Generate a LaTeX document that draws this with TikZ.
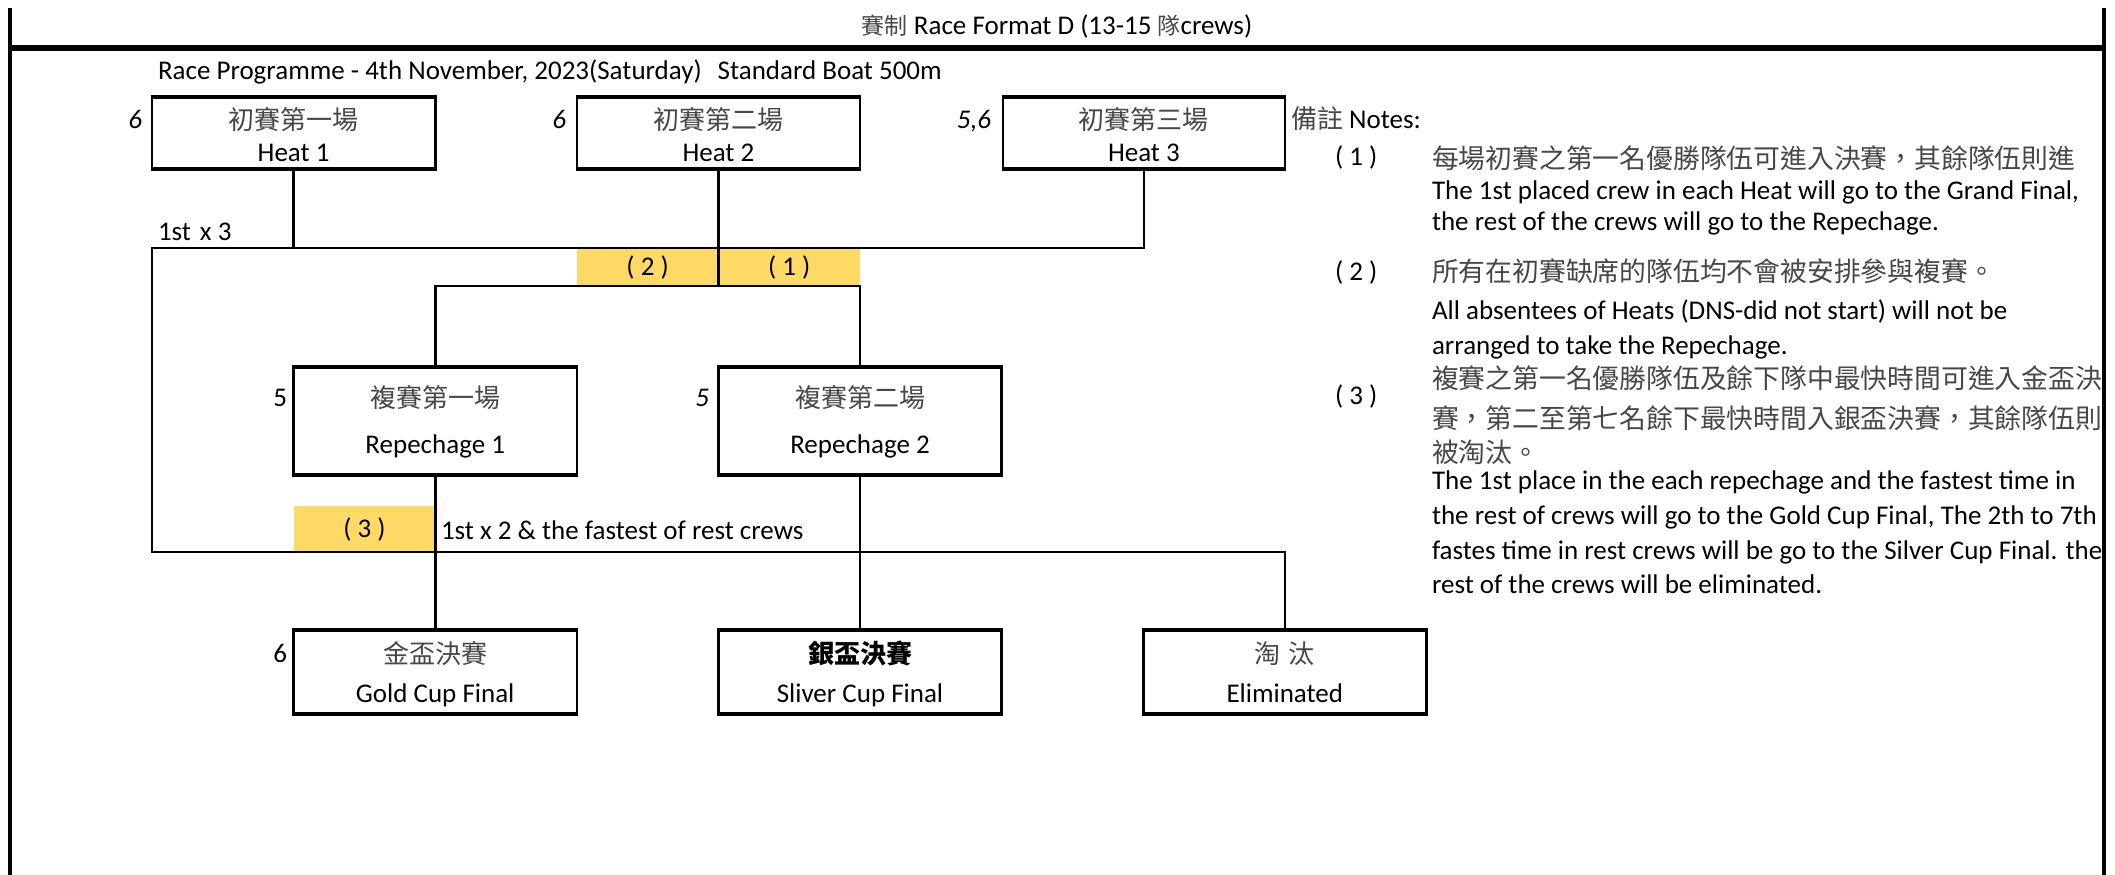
\documentclass[tikz,border=0pt]{standalone}
\usepackage{fontspec}
\setmainfont{Carlito}
\newfontfamily\cjk{Noto Sans CJK TC}
\definecolor{gold}{HTML}{FFD966}
\definecolor{cjkgray}{gray}{0.28}
\newcommand\zh[2][26]{{\cjk\fontsize{#1}{#1}\selectfont\color{cjkgray}#2}}
\newcommand\mybox[5]{%
  \node[boxnode, minimum width={#3-#2}, minimum height={#5-#4}, anchor=north west] (#1) at (#2,#4) {};
  \draw[edge] ([xshift=-1.3pt]#1.north west) -- ([xshift=1.3pt]#1.north east);
  \draw[edge] ([xshift=-1.3pt]#1.south west) -- ([xshift=1.3pt]#1.south east);
}
\tikzset{
  lat/.style={font=\fontsize{27}{32}\selectfont, inner sep=0pt, outer sep=0pt},
  boxnode/.style={draw=black, line width=2.6pt, inner sep=0pt, outer sep=0pt, fill=white},
  edge/.style={line width=4.6pt},
  conn/.style={line width=2.6pt, line cap=rect},
  ybox/.style={fill=gold, draw=none, inner sep=0pt, outer sep=0pt, font=\fontsize{27}{32}\selectfont},
  lbl/.style={lat, anchor=base east},
  txt/.style={lat, anchor=base west},
  mid/.style={lat, anchor=base},
}
\begin{document}
\begin{tikzpicture}[x=1pt, y=-1pt]
\useasboundingbox (0,0) rectangle (2115,875);
% frame
\draw[line width=4pt] (10,8) -- (10,875);
\draw[line width=4pt] (2104,8) -- (2104,875);
\draw[line width=6pt] (8,48) -- (2106,48);
\node[mid] (sub) at (1057,35) {\zh[23]{賽制} Race Format D (13-15 \zh[23]{隊}crews)};
\node[txt] (prog) at (158,79) {Race Programme - 4th November, 2023(Saturday)\hspace{16pt}Standard Boat 500m};

% yellow cells
\node[ybox, minimum width=141.6, minimum height=38, anchor=north west] (y2) at (576.8,248) {\raisebox{-4pt}{( 2 )}};
\node[ybox, minimum width=141.6, minimum height=38, anchor=north west] (y1) at (718.4,248) {\raisebox{-4pt}{( 1 )}};
\node[ybox, minimum width=141.6, minimum height=46, anchor=north west] (y3) at (293.6,506) {( 3 )};

% junction coordinates
\coordinate (jTL) at (152,248);
\coordinate (jBL) at (152,552);
\coordinate (jM) at (0,286);

% boxes
\mybox{h1}{152}{435.2}{97}{169}
\mybox{h2}{576.8}{860}{97}{169}
\mybox{h3}{1003}{1284.8}{97}{169}
\mybox{r1}{293.6}{576.8}{367}{475}
\mybox{r2}{718.4}{1001.6}{367}{475}
\mybox{gf}{293.6}{576.8}{630}{714}
\mybox{sf}{718.4}{1001.6}{630}{714}
\mybox{el}{1143.2}{1426.4}{630}{714}

% connectors
\draw[conn] (h3.south) |- (jTL) -- (jBL) -| (el.north);
\draw[conn] (h1.south) -- (h1.south |- jTL);
\draw[conn] (h2.south) -- (h2.south |- jM);
\draw[conn] (r1.north) -- (r1.north |- jM) -- (r2.north |- jM) -- (r2.north);
\draw[conn] (r1.south) -- (gf.north);
\draw[conn] (r2.south) -- (sf.north);

% box texts
\node[mid] (h1a) at ([yshift=-32]h1.north) {\zh{初賽第一場}};
\node[mid] (h1b) at ([yshift=-64]h1.north) {Heat 1};
\node[mid] (h2a) at ([yshift=-32]h2.north) {\zh{初賽第二場}};
\node[mid] (h2b) at ([yshift=-64]h2.north) {Heat 2};
\node[mid] (h3a) at ([yshift=-32]h3.north) {\zh{初賽第三場}};
\node[mid] (h3b) at ([yshift=-64]h3.north) {Heat 3};
\node[mid] (r1a) at ([yshift=-40]r1.north) {\zh{複賽第一場}};
\node[mid] (r1b) at ([yshift=-86]r1.north) {Repechage 1};
\node[mid] (r2a) at ([yshift=-40]r2.north) {\zh{複賽第二場}};
\node[mid] (r2b) at ([yshift=-86]r2.north) {Repechage 2};
\node[mid] (gfa) at ([yshift=-33]gf.north) {\zh{金盃決賽}};
\node[mid] (gfb) at ([yshift=-72]gf.north) {Gold Cup Final};
\node[mid] (sfa) at ([yshift=-33]sf.north) {{\cjk\fontsize{26}{26}\selectfont\bfseries 銀盃決賽}};
\node[mid] (sfb) at ([yshift=-72]sf.north) {Sliver Cup Final};
\node[mid] (ela) at ([yshift=-33]el.north) {\zh{淘\hspace{8pt}汰}};
\node[mid] (elb) at ([yshift=-72]el.north) {Eliminated};

% side labels
\node[lbl] (n1) at (142,128) {\itshape 6};
\node[lbl] (n2) at (566,128) {\itshape 6};
\node[lbl] (n3) at (991,128) {\itshape 5,6};
\node[lbl] (n4) at (287,406) {5};
\node[lbl] (n5) at (709,406) {\itshape 5};
\node[lbl] (n6) at (287,662) {6};
\node[txt] (first3) at (158,240) {1st\hspace{9pt}x 3};
\node[txt] (first2) at (441,539) {1st x 2 \& the fastest of rest crews};

% notes
\node[txt] (nt) at (1291,128) {\zh{備註} Notes:};
\node[txt] (k1) at (1335,165) {( 1 )};
\node[txt] (t1a) at (1432,168) {\zh[26.8]{每場初賽之第一名優勝隊伍可進入決賽，其餘隊伍則進}};
\node[txt] (t1b) at (1432,199) {The 1st placed crew in each Heat will go to the Grand Final,};
\node[txt] (t1c) at (1432,230) {the rest of the crews will go to the Repechage.};
\node[txt] (k2) at (1335,280) {( 2 )};
\node[txt] (t2a) at (1432,281) {\zh[26.8]{所有在初賽缺席的隊伍均不會被安排參與複賽。}};
\node[txt] (t2b) at (1432,319) {All absentees of Heats (DNS-did not start) will not be};
\node[txt] (t2c) at (1432,354) {arranged to take the Repechage.};
\node[txt] (k3) at (1335,404) {( 3 )};
\node[txt] (t3a) at (1432,388) {\zh[26.8]{複賽之第一名優勝隊伍及餘下隊中最快時間可進入金盃決}};
\node[txt] (t3b) at (1432,428) {\zh[26.8]{賽，第二至第七名餘下最快時間入銀盃決賽，其餘隊伍則}};
\node[txt] (t3c) at (1432,462) {\zh[26.8]{被淘汰。}};
\node[txt] (t3d) at (1432,489) {The 1st place in the each repechage and the fastest time in};
\node[txt] (t3e) at (1432,524) {the rest of crews will go to the Gold Cup Final, The 2th to 7th};
\node[txt] (t3f) at (1432,559) {fastes time in rest crews will be go to the Silver Cup Final. the};
\node[txt] (t3g) at (1432,593) {rest of the crews will be eliminated.};
\end{tikzpicture}
\end{document}
